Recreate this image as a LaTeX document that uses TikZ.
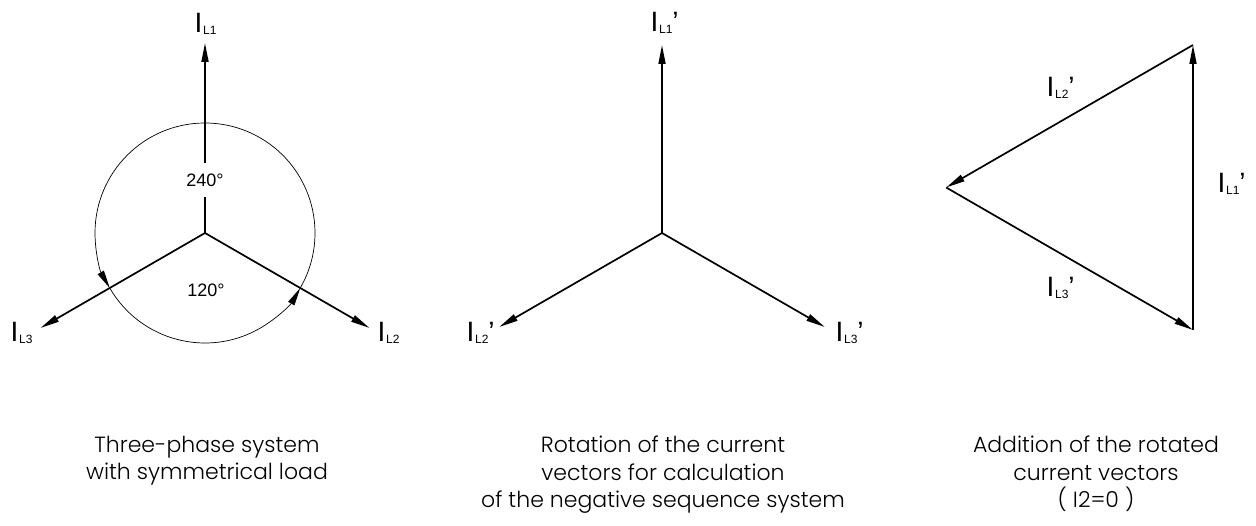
\documentclass[tikz,border=0pt]{standalone}
\usepackage{fontspec}
\setmainfont{Liberation Sans}
\newfontfamily\capfont{Poppins Light}
\usetikzlibrary{arrows.meta,positioning,calc}
\newcommand{\cur}[1]{I\kern0.6pt\raisebox{-2pt}{\fontsize{12}{12}\selectfont L#1}}
\tikzset{
  phasor/.style={line width=1.7pt,-{Triangle[length=19pt,width=7pt]}},
  arcline/.style={line width=0.7pt},
  arcarrow/.style={arcline,-{Triangle[length=18pt,width=7pt]}},
  curlbl/.style={inner sep=0pt,anchor=base west,font=\fontsize{28}{28}\selectfont},
  anglbl/.style={inner sep=1pt,font=\fontsize{18}{18}\selectfont},
  caption/.style={inner sep=0pt,anchor=north,align=center,
    font=\capfont\fontsize{22}{27.5}\selectfont},
}
\begin{document}
\begin{tikzpicture}[x=1pt,y=1pt]
\useasboundingbox (0,0) rectangle (1256,-526);
% three-phase system
\coordinate (c1) at (205,-233);
\coordinate (p1) at ($(c1)+(90:190)$);
\coordinate (p2) at ($(c1)+(-30:190)$);
\coordinate (p3) at ($(c1)+(210:190)$);
\draw[arcarrow] ($(c1)+(90:110)$) arc[start angle=90,end angle=210,radius=110];
\draw[arcarrow] ($(c1)+(210:110)$) arc[start angle=210,end angle=330,radius=110];
\draw[arcline] ($(c1)+(330:110)$) arc[start angle=330,end angle=450,radius=110];
\draw[phasor] (c1) -- (p1);
\draw[phasor] (c1) -- (p2);
\draw[phasor] (c1) -- (p3);
\node[anglbl,fill=white,inner ysep=11pt] (a240) at (205,-180) {240°};
\node[anglbl] (a120) at (206,-290) {120°};
\node[curlbl] (n1) at (194.5,-33) {\cur{1}};
\node[curlbl] (n2) at (377.5,-342) {\cur{2}};
\node[curlbl] (n3) at (10.5,-342) {\cur{3}};
% rotated vectors
\coordinate (c2) at (662,-233);
\coordinate (q1) at ($(c2)+(90:188)$);
\coordinate (q2) at ($(c2)+(210:188)$);
\coordinate (q3) at ($(c2)+(-30:188)$);
\draw[phasor] (c2) -- (q1);
\draw[phasor] (c2) -- (q2);
\draw[phasor] (c2) -- (q3);
\node[curlbl] (m1) at (650.5,-32) {\cur{1}’};
\node[curlbl] (m2) at (466.5,-342) {\cur{2}’};
\node[curlbl] (m3) at (835.5,-342) {\cur{3}’};
% addition
\coordinate (t3) at (1193,-330);
\coordinate (t1) at ($(t3)+(0,285)$);
\coordinate (t2) at ($(t1)+(210:285)$);
\draw[phasor] (t3) -- (t1);
\draw[phasor] (t1) -- (t2);
\draw[phasor] (t2) -- (t3);
\node[curlbl] (k1) at (1217.5,-193) {\cur{1}’};
\node[curlbl] (k2) at (1046.5,-97) {\cur{2}’};
\node[curlbl] (k3) at (1046.5,-297) {\cur{3}’};
% captions
\node[caption] (cap1) at (207,-436) {Three-phase system\\with symmetrical load};
\node[caption] (cap2) at (663,-436) {Rotation of the current\\vectors for calculation\\of the negative sequence system};
\node[caption] (cap3) at (1096,-436) {Addition of the rotated\\current vectors\\( I2=0 )};
\end{tikzpicture}
\end{document}
